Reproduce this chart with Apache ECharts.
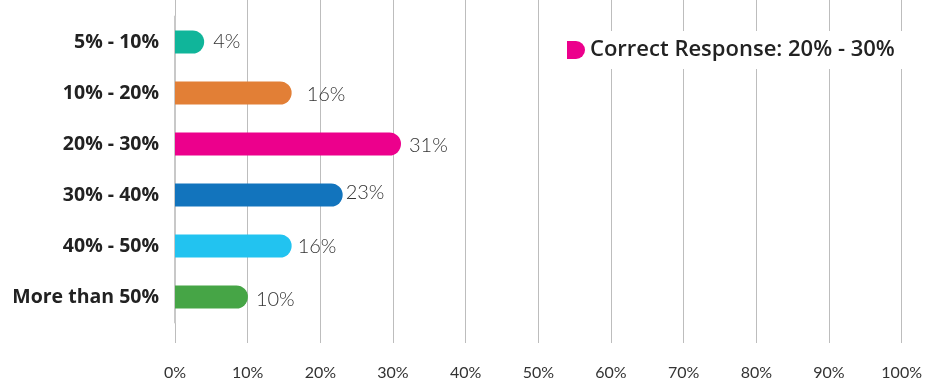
<!DOCTYPE html>
<html>
<head>
<meta charset="utf-8">
<script src="https://cdn.jsdelivr.net/npm/echarts@6/dist/echarts.min.js"></script>
<style>
  html, body { margin: 0; padding: 0; background: #fff; }
  #chart { width: 925px; height: 383px; }
</style>
</head>
<body>
<div id="chart"></div>
<script>
// Survey answer buckets and the share of respondents choosing each one
const categories = ['5% - 10%', '10% - 20%', '20% - 30%', '30% - 40%', '40% - 50%', 'More than 50%'];
const shares = [4, 16, 31, 23, 16, 10];
const barColors = ['#10b59a', '#e27f36', '#ec008c', '#1274bd', '#22c3f0', '#46a546'];
const tickValues = [0, 10, 20, 30, 40, 50, 60, 70, 80, 90, 100];
const legendLabel = 'Correct Response: 20% - 30%';

// gap between each bar end and its value label
const labelGaps = [9, 15, 8, 3, 6, 8];
const labelShifts = [0, 2, 2, -2, 1, 3];

const chart = echarts.init(document.getElementById('chart'));

const THIN = 'Lato, "Open Sans", sans-serif';
const BOLD = '"Open Sans", Lato, sans-serif';

chart.setOption({
  animation: false,
  legend: {
    data: [legendLabel],
    left: 559,
    top: 31,
    padding: [8, 8, 8, 8],
    backgroundColor: '#fff',
    itemWidth: 18,
    itemHeight: 18,
    itemGap: 7,
    icon: 'path://M0,0 H9 A9,9 0 0 1 9,18 H0 Z',
    textStyle: { fontFamily: BOLD, fontSize: 22, fontWeight: 600, color: '#222' }
  },
  grid: [
    // full-height frame carrying the vertical gridlines and percentage ticks
    { left: 175, width: 729, top: 0, height: 343 },
    // bar area
    { left: 175, width: 729, top: 16.5, height: 306 }
  ],
  xAxis: [
    {
      gridIndex: 0, type: 'value', min: 0, max: 100, interval: 10,
      axisLine: { show: false }, axisTick: { show: false },
      splitLine: { show: true, lineStyle: { color: '#bdbdbd', width: 1 } },
      axisLabel: {
        margin: 22, fontFamily: THIN, fontSize: 16, color: '#333',
        formatter: v => tickValues.includes(v) ? v + '%' : ''
      }
    },
    {
      gridIndex: 1, type: 'value', min: 0, max: 100, interval: 10,
      show: false
    }
  ],
  yAxis: [
    { gridIndex: 0, type: 'value', show: false },
    {
      gridIndex: 1, type: 'category', data: categories, inverse: true,
      axisLine: { show: true, lineStyle: { color: '#c8c8c8', width: 2 } },
      axisTick: { show: false },
      axisLabel: {
        margin: 16, fontFamily: BOLD, fontSize: 19.5, fontWeight: 'bold', color: '#222'
      }
    }
  ],
  series: [
    {
      name: legendLabel,
      type: 'bar',
      xAxisIndex: 1,
      yAxisIndex: 1,
      barWidth: 23,
      itemStyle: { color: '#ec008c', borderRadius: [0, 11.5, 11.5, 0] },
      data: shares.map((v, i) => ({
        value: v,
        itemStyle: { color: barColors[i] },
        label: { distance: labelGaps[i], offset: [0, labelShifts[i]] }
      })),
      label: {
        show: true,
        position: 'right',
        fontFamily: THIN,
        fontSize: 20,
        fontWeight: 300,
        color: '#333',
        formatter: p => p.value + '%'
      }
    }
  ]
});
</script>
</body>
</html>
